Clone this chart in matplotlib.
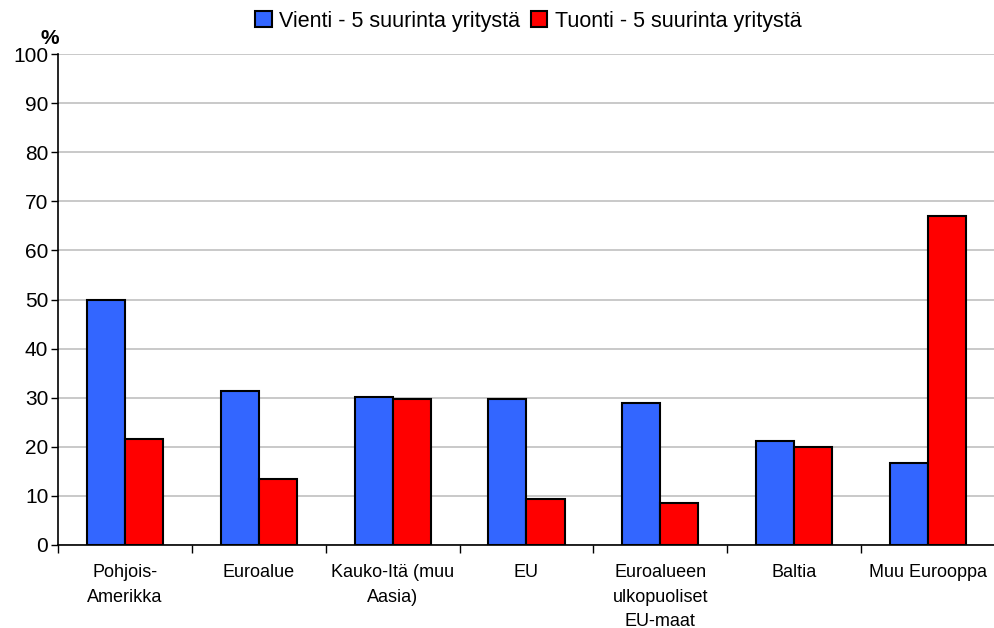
import numpy as np
import matplotlib
matplotlib.use("Agg")
from matplotlib import pyplot as plt

plt.rcParams['font.family'] = ['Liberation Sans', 'DejaVu Sans']

alueet = ["Pohjois-\nAmerikka", "Euroalue", "Kauko-Itä (muu\nAasia)", "EU",
          "Euroalueen\nulkopuoliset\nEU-maat", "Baltia", "Muu Eurooppa"]
vienti = [50.0, 31.3, 30.1, 29.7, 28.9, 21.2, 16.7]
tuonti = [21.6, 13.4, 29.7, 9.4, 8.6, 20.0, 67.1]
y_ticks = [0, 10, 20, 30, 40, 50, 60, 70, 80, 90, 100]

fig = plt.figure(figsize=(9.95, 6.28), dpi=100)
ax = fig.add_axes([58 / 995, 1 - 545 / 628, 937 / 995, 491 / 628])

x = np.arange(len(alueet))
w = 0.284
ax.bar(x - w / 2, vienti, w, color="#3366FF", edgecolor="black", linewidth=1.5,
       label="Vienti - 5 suurinta yritystä", zorder=3)
ax.bar(x + w / 2, tuonti, w, color="#FF0000", edgecolor="black", linewidth=1.5,
       label="Tuonti - 5 suurinta yritystä", zorder=3)

ax.set_xlim(-0.5, len(alueet) - 0.5)
ax.set_ylim(0, 100)
ax.set_yticks(y_ticks)
ax.set_yticklabels([str(v) for v in y_ticks], fontsize=15)
ax.yaxis.grid(True, color="#c0c0c0", linewidth=1.2, zorder=0)
ax.tick_params(axis="y", length=5, width=1, direction="out", pad=2)

# kategoria-nimet keskelle, tikit ryhmien väliin
ax.set_xticks(np.arange(len(alueet) + 1) - 0.5)
ax.set_xticklabels([])
ax.set_xticks(x, minor=True)
ax.set_xticklabels(alueet, minor=True, fontsize=13, linespacing=1.55, va="top")
ax.tick_params(axis="x", which="major", length=6, width=1)
ax.tick_params(axis="x", which="minor", length=0, pad=14)

for s in ["top", "right"]:
    ax.spines[s].set_visible(False)
ax.spines["left"].set_linewidth(1.2)
ax.spines["bottom"].set_linewidth(1.2)

ax.text(-0.019, 1.012, "%", transform=ax.transAxes, fontsize=15, fontweight="bold",
        ha="left", va="bottom")

fig.legend(loc="upper center", bbox_to_anchor=(0.531, 1.014), ncol=2, frameon=False,
           fontsize=15.5, handlelength=0.75, handleheight=0.75, handletextpad=0.35,
           columnspacing=0.5)

fig.savefig("out.png", dpi=100)
